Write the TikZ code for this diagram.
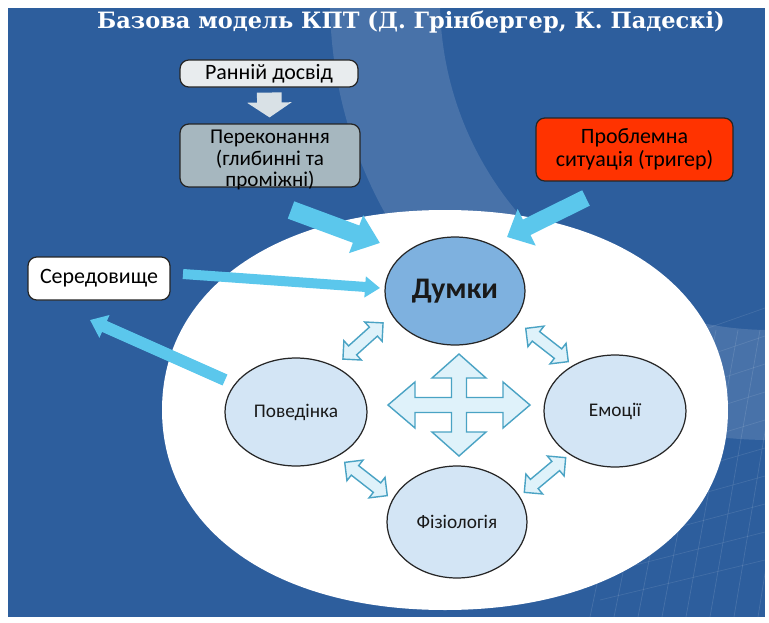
\documentclass[tikz,border=0pt]{standalone}
\usepackage{fontspec}
\setmainfont{Carlito}
\newfontfamily\titlefont{DejaVu Serif}
\usetikzlibrary{arrows.meta,shapes.geometric}

\definecolor{bgblue}{HTML}{2D5E9D}
\definecolor{thoughtblue}{HTML}{7EB1DF}
\definecolor{paleblue}{HTML}{D3E5F5}
\definecolor{cyanarr}{HTML}{5BC7EC}
\definecolor{icefill}{HTML}{DFF2FA}
\definecolor{iceline}{HTML}{4AA3C4}
\definecolor{beliefgray}{HTML}{A6B7BF}
\definecolor{earlygray}{HTML}{E8ECEE}
\definecolor{downgray}{HTML}{D9E1E6}
\definecolor{triggerred}{HTML}{FF3300}

\begin{document}
\begin{tikzpicture}[x=0.02cm,y=-0.02cm,
  box/.style={draw=black!85,line width=0.7pt,rounded corners=5pt,align=center,
    inner sep=0pt,font=\fontsize{12.5}{12.8}\selectfont},
  state/.style={ellipse,draw=black!85,line width=0.7pt,fill=paleblue,inner sep=0pt,
    text=black!90,font=\fontsize{11}{13}\selectfont},
  icearr/.style={draw=iceline,fill=icefill,line width=0.8pt,line join=miter},
  twoway/.pic={\draw[icearr] (-27,0) -- (-14,-13) -- (-14,-6) -- (14,-6) -- (14,-13)
    -- (27,0) -- (14,13) -- (14,6) -- (-14,6) -- (-14,13) -- cycle;}]
  \useasboundingbox (0,0) rectangle (769,623);
  \fill[white] (0,0) rectangle (769,623);
  \fill[bgblue] (8,8) rectangle (765,617);
  \begin{scope}
    \clip (8,8) rectangle (765,617);
    \fill[white,opacity=0.13,even odd rule] (770,0) circle[radius=440] (770,0) circle[radius=330];
    \foreach \k in {0,...,7}
      \draw[white,opacity=0.12] (590+\k*24,617) -- (650+\k*22,330);
    \foreach \k in {0,...,9}
      \draw[white,opacity=0.1] (600,600-\k*26) -- (765,560-\k*28);
  \end{scope}
  \fill[white] (162,410) .. controls (162,290) and (275,210) .. (445,210)
    .. controls (615,210) and (728,290) .. (728,410)
    .. controls (728,530) and (615,610) .. (445,610)
    .. controls (275,610) and (162,530) .. cycle;

  \node[font=\titlefont\bfseries\fontsize{12.8}{15}\selectfont,text=white] (title) at (411,22)
    {Базова модель КПТ (Д. Грінбергер, К. Падескі)};

  \node[box,fill=earlygray,minimum width=3.56cm,minimum height=0.54cm] (early) at (269,73.5) {Ранній досвід};
  \node[box,fill=beliefgray,minimum width=3.6cm,minimum height=1.26cm,text height=35.5pt,text depth=0pt,
    font=\fontsize{12}{12.2}\selectfont] (belief) at (270,155.5)
    {Переконання\\(глибинні та\\проміжні)};
  \node[box,fill=triggerred,minimum width=3.94cm,minimum height=1.26cm] (trigger) at (634.5,149.5)
    {Проблемна\\ситуація (тригер)};
  \node[box,fill=white,minimum width=2.84cm,minimum height=0.86cm] (env) at (99,278.5) {Середовище};

  \node[state,fill=thoughtblue,minimum width=2.8cm,minimum height=2.16cm,
    font=\fontsize{17}{20}\selectfont\bfseries] (thought) at (455,291) {Думки};
  \node[state,minimum width=2.84cm,minimum height=2.16cm] (behav) at (296,412) {Поведінка};
  \node[state,minimum width=2.84cm,minimum height=2.24cm] (emot) at (615,411) {Емоції};
  \node[state,minimum width=2.8cm,minimum height=2.24cm] (physio) at (457,522) {Фізіологія};

  \coordinate (belieftail) at (291,210);
  \coordinate (trigtail) at (586,198);
  \coordinate (envtail) at (183,274);
  \coordinate (behavtail) at (225,380);
  \coordinate (thoughtnw) at (380,243);
  \coordinate (thoughtne) at (507,237);
  \coordinate (thoughtw) at (380,288);
  \coordinate (envsw) at (90,320);

  \draw[downgray,line width=14pt,-{Triangle[length=8.5pt,width=25pt]},
    shorten <=2.8pt,shorten >=3.4pt] (early) -- (belief);
  \draw[cyanarr,line width=10.5pt,-{Triangle[length=14.5pt,width=22pt]}] (belieftail) -- (thoughtnw);
  \draw[cyanarr,line width=9.8pt,-{Triangle[length=12.5pt,width=22.5pt]}] (trigtail) -- (thoughtne);
  \draw[cyanarr,line width=5.7pt,-{Triangle[length=8.5pt,width=11.5pt]}] (envtail) -- (thoughtw);
  \draw[cyanarr,line width=6.8pt,-{Triangle[length=9pt,width=13.6pt]}] (behavtail) -- (envsw);

  \draw[icearr,shift={(459,405)}] (0,-51) -- (27,-27) -- (7.5,-27) -- (7.5,-7.5) -- (44,-7.5)
    -- (44,-23) -- (71,0) -- (44,23) -- (44,7.5) -- (7.5,7.5) -- (7.5,27) -- (27,27) -- (0,51)
    -- (-27,27) -- (-7.5,27) -- (-7.5,7.5) -- (-44,7.5) -- (-44,23) -- (-71,0) -- (-44,-23)
    -- (-44,-7.5) -- (-7.5,-7.5) -- (-7.5,-27) -- (-27,-27) -- cycle;
  \pic[rotate=42] at (363,341) {twoway};
  \pic[rotate=-38] at (547,345) {twoway};
  \pic[rotate=-38] at (366,479) {twoway};
  \pic[rotate=40] at (545,475) {twoway};
\end{tikzpicture}
\end{document}
